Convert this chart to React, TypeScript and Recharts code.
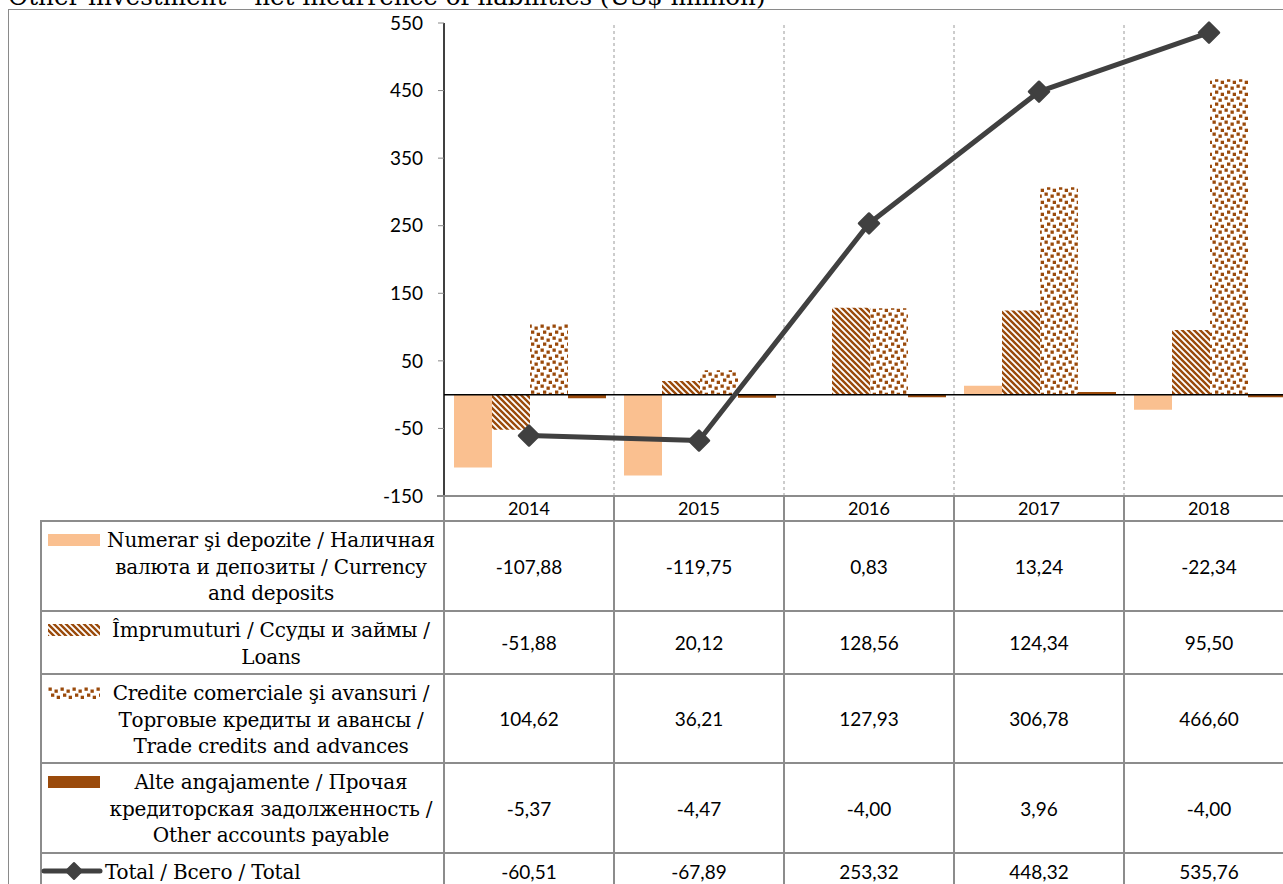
import React from "react";
import {
  Bar,
  ComposedChart,
  Line,
  ReferenceLine,
  XAxis,
  YAxis,
} from "recharts";

const years = ["2014", "2015", "2016", "2017", "2018"];
const currency = [-107.88, -119.75, 0.83, 13.24, -22.34];
const loans = [-51.88, 20.12, 128.56, 124.34, 95.5];
const trade = [104.62, 36.21, 127.93, 306.78, 466.6];
const other = [-5.37, -4.47, -4.0, 3.96, -4.0];
const total = [-60.51, -67.89, 253.32, 448.32, 535.76];
const yTicks = [-150, -50, 50, 150, 250, 350, 450, 550];

const seriesLabels = [
  ["Numerar şi depozite / Наличная", "валюта и депозиты / Currency", "and deposits"],
  ["Împrumuturi / Ссуды и займы /", "Loans"],
  ["Credite comerciale şi avansuri /", "Торговые кредиты и авансы /", "Trade credits and advances"],
  ["Alte angajamente / Прочая", "кредиторская задолженность /", "Other accounts payable"],
  ["Total / Всего / Total"],
];

const data = years.map((year, i) => ({
  year,
  currency: currency[i],
  loans: loans[i],
  trade: trade[i],
  other: other[i],
  total: total[i],
}));

const ORANGE = "#FAC090";
const BROWN = "#9A4A0B";
const LINE = "#404040";
const TABLE = "#8c8c8c";
const SERIF = "'DejaVu Serif', serif";
const SANS = "Lato, 'Open Sans', sans-serif";

// layout of the plot / data table
const PLOT_LEFT = 444;
const COL_W = 170;
const PLOT_RIGHT = PLOT_LEFT + COL_W * years.length;
const TABLE_LEFT = 41;
const HEADER_TOP = 496;
const rowHeights = [90, 63, 89, 90, 37];
const firstRowTop = 521;

const fmt = (v: number) => v.toFixed(2).replace(".", ",");

function Patterns({ prefix }: { prefix: string }) {
  return (
    <defs>
      <pattern id={`${prefix}-loans`} patternUnits="userSpaceOnUse" width="6" height="6">
        <rect width="6" height="6" fill="#fff" />
        <path
          d="M-1,-1 L7,7 M-1,5 L1,7 M5,-1 L7,1"
          stroke={BROWN}
          strokeWidth="2.4"
        />
      </pattern>
      <pattern id={`${prefix}-trade`} patternUnits="userSpaceOnUse" width="12" height="12">
        <rect width="12" height="12" fill="#fff" />
        <rect x="0.5" y="0.5" width="3.3" height="3.3" fill={BROWN} />
        <rect x="6.5" y="2.5" width="3.3" height="3.3" fill={BROWN} />
        <rect x="3" y="6.5" width="3.3" height="3.3" fill={BROWN} />
        <rect x="8.7" y="8.7" width="3.3" height="3.3" fill={BROWN} />
      </pattern>
    </defs>
  );
}

const Diamond = (props: any) => {
  const { cx, cy, index } = props;
  if (cx == null || cy == null) return null;
  const r = 10;
  return (
    <path
      key={`dm-${index}`}
      d={`M${cx},${cy - r} L${cx + r},${cy} L${cx},${cy + r} L${cx - r},${cy} Z`}
      fill={LINE}
      stroke={LINE}
      strokeWidth={2.5}
      strokeLinejoin="round"
    />
  );
};

function Swatch({ index }: { index: number }) {
  if (index === 4) {
    return (
      <svg width={62} height={20} style={{ display: "block" }}>
        <line x1={3} y1={10} x2={59} y2={10} stroke={LINE} strokeWidth={5} strokeLinecap="round" />
        <path d="M33,2 L41,10 L33,18 L25,10 Z" fill={LINE} stroke={LINE} strokeWidth={2} strokeLinejoin="round" />
      </svg>
    );
  }
  const fills = [ORANGE, "url(#sw-loans)", "url(#sw-trade)", BROWN];
  return (
    <svg width={52} height={12} style={{ display: "block" }}>
      <Patterns prefix="sw" />
      <rect width={52} height={12} fill={fills[index]} />
    </svg>
  );
}

function DataTable() {
  const tops: number[] = [];
  let y = firstRowTop;
  rowHeights.forEach((h) => {
    tops.push(y);
    y += h;
  });
  const colX = years.map((_, i) => PLOT_LEFT + i * COL_W);
  const rows = [currency, loans, trade, other, total];
  const hLine = (top: number, left: number, key: string) => (
    <div
      key={key}
      style={{
        position: "absolute",
        left,
        top: top - 1,
        width: PLOT_RIGHT - left,
        height: 2,
        background: TABLE,
      }}
    />
  );
  const vLines = [TABLE_LEFT, ...colX, PLOT_RIGHT].map((x, i) => (
    <div
      key={`v${i}`}
      style={{
        position: "absolute",
        left: x - 1,
        top: i === 0 ? firstRowTop - 1 : HEADER_TOP,
        width: 2,
        height: 500,
        background: TABLE,
      }}
    />
  ));
  return (
    <>
      {hLine(HEADER_TOP, 437, "hh")}
      {tops.map((t, i) => hLine(t, TABLE_LEFT, `h${i}`))}
      {hLine(y, TABLE_LEFT, "hend")}
      {vLines}
      {rows.map((vals, r) => (
        <React.Fragment key={`r${r}`}>
          <div style={{ position: "absolute", left: r === 4 ? 41 : 48, top: tops[r] + (r === 4 ? 8 : 13) }}>
            <Swatch index={r} />
          </div>
          <div
            style={{
              position: "absolute",
              left: r === 4 ? 105 : 101,
              width: r === 4 ? 330 : 340,
              top: tops[r] + 6,
              fontFamily: SERIF,
              fontSize: 20,
              letterSpacing: -0.2,
              lineHeight: "26.5px",
              textAlign: r === 4 ? "left" : "center",
              whiteSpace: "nowrap",
              color: "#000",
            }}
          >
            {seriesLabels[r].map((line, k) => (
              <div key={k}>{line}</div>
            ))}
          </div>
          {vals.map((v, c) => (
            <div
              key={`c${c}`}
              style={{
                position: "absolute",
                left: colX[c],
                width: COL_W,
                top: tops[r],
                height: rowHeights[r],
                display: "flex",
                alignItems: "center",
                justifyContent: "center",
                fontFamily: SANS,
                fontSize: 19,
                color: "#000",
              }}
            >
              {fmt(v)}
            </div>
          ))}
        </React.Fragment>
      ))}
    </>
  );
}

export default function App() {
  return (
    <div
      style={{
        position: "absolute",
        left: 0,
        top: 0,
        width: 1283,
        height: 884,
        overflow: "hidden",
        background: "#fff",
      }}
    >
      <svg width={1283} height={12} style={{ position: "absolute", left: 0, top: 0 }}>
        <text x={8} y={5} fontFamily={SERIF} fontSize={24.6} fill="#000">
          Other investment – net incurrence of liabilities (US$ million)
        </text>
      </svg>
      <div
        style={{
          position: "absolute",
          left: 8,
          top: 9,
          width: 1400,
          height: 1000,
          borderLeft: "1.5px solid #8a8a8a",
          borderTop: "1.5px solid #8a8a8a",
        }}
      />
      <ComposedChart
        width={1310}
        height={530}
        data={data}
        margin={{ top: 23, right: 16, bottom: 9, left: 384 }}
        barCategoryGap={10}
        barGap={0}
        style={{ position: "absolute", left: 0, top: 0 }}
      >
        <Patterns prefix="ch" />
        <XAxis
          dataKey="year"
          axisLine={false}
          tickLine={false}
          tickSize={0}
          tickMargin={6}
          height={25}
          interval={0}
          tick={{ fill: "#000", fontFamily: SANS, fontSize: 18 }}
        />
        <YAxis
          width={60}
          domain={[-150, 550]}
          ticks={yTicks}
          interval={0}
          axisLine={{ stroke: "#000", strokeWidth: 1.5 }}
          tickLine={{ stroke: "#888" }}
          tickSize={6}
          tickMargin={15}
          tick={{ fill: "#000", fontFamily: SANS, fontSize: 19 }}
        />
        {years.slice(1).map((yr) => (
          <ReferenceLine
            key={`g${yr}`}
            x={yr}
            position="start"
            stroke="#9a9a9a"
            strokeDasharray="3 3"
          />
        ))}
        <Bar dataKey="currency" fill={ORANGE} isAnimationActive={false} />
        <Bar dataKey="loans" fill="url(#ch-loans)" isAnimationActive={false} />
        <Bar dataKey="trade" fill="url(#ch-trade)" isAnimationActive={false} />
        <Bar dataKey="other" fill={BROWN} isAnimationActive={false} />
        <ReferenceLine y={0} stroke="#000" strokeWidth={1.5} />
        <Line
          type="linear"
          dataKey="total"
          stroke={LINE}
          strokeWidth={5}
          strokeLinejoin="round"
          dot={Diamond}
          activeDot={false}
          isAnimationActive={false}
        />
      </ComposedChart>
      <DataTable />
    </div>
  );
}
